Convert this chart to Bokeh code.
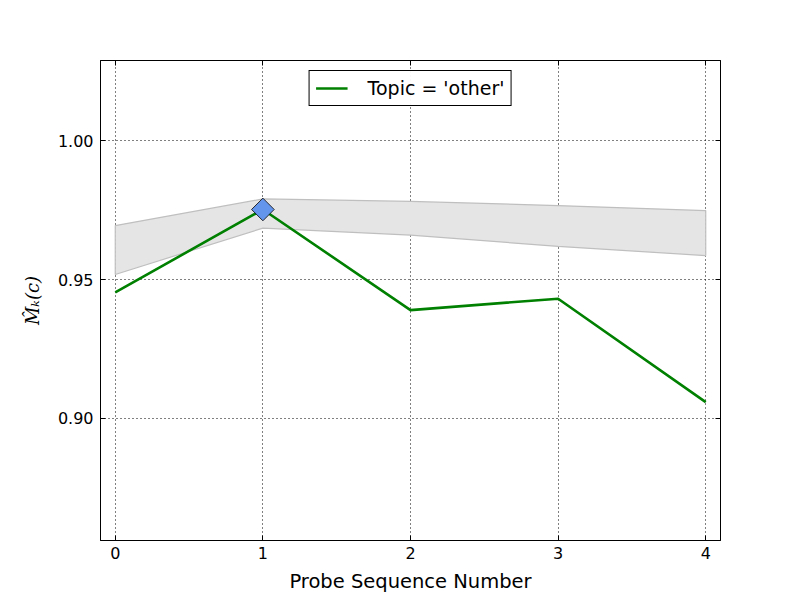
import numpy as np
from bokeh.plotting import figure
from bokeh.models import (LinearAxis, Range1d, FixedTicker, Legend, LegendItem,
                          CustomJSTickFormatter)
from bokeh.embed import file_html
from bokeh.resources import INLINE

# data
probe = [0, 1, 2, 3, 4]
topic_other = [0.9454, 0.9752, 0.9390, 0.9431, 0.9059]
band_upper = [0.9694, 0.9790, 0.9781, 0.9766, 0.9748]
band_lower = [0.9518, 0.9685, 0.9660, 0.9619, 0.9586]
highlight_x = [1]
highlight_y = [0.9752]
x_ticks = [0, 1, 2, 3, 4]
y_ticks = [0.90, 0.95, 1.00]
legend_label = "Topic = 'other'"

FONT = "DejaVu Sans"

p = figure(frame_width=620, frame_height=480,
           min_border_left=100, min_border_right=80,
           min_border_top=60, min_border_bottom=60,
           x_range=Range1d(-0.1, 4.1), y_range=Range1d(0.8561, 1.0288),
           output_backend="svg", toolbar_location=None,
           background_fill_color="white", border_fill_color="white")

p.outline_line_color = "black"
p.outline_line_width = 1

# band
px = list(probe) + list(probe[::-1])
py = list(band_upper) + list(band_lower[::-1])
p.patch(px, py, fill_color="#e5e5e5", fill_alpha=1.0,
        line_color="#bfbfbf", line_width=1.2)

# main line
r_line = p.line(probe, topic_other, line_color="#008000", line_width=2.6)

# highlight
p.scatter(highlight_x, highlight_y, marker="square", angle=np.pi / 4, size=16,
          fill_color="#6495ED", line_color="black", line_width=0.8)

# axes
for ax in (p.xaxis[0], p.yaxis[0]):
    ax.major_tick_in = 5
    ax.major_tick_out = 0
    ax.minor_tick_in = 0
    ax.minor_tick_out = 0
    ax.axis_line_color = "black"
    ax.major_label_text_font = FONT
    ax.major_label_text_font_size = "16px"
    ax.major_label_text_color = "black"
    ax.axis_label_text_font = FONT
    ax.axis_label_text_font_style = "normal"
    ax.axis_label_text_color = "black"

p.xaxis[0].ticker = FixedTicker(ticks=x_ticks)
p.yaxis[0].ticker = FixedTicker(ticks=y_ticks)
p.yaxis[0].formatter = CustomJSTickFormatter(code="return tick.toFixed(2);")
p.xaxis[0].axis_label = "Probe Sequence Number"
p.xaxis[0].axis_label_text_font_size = "19.5px"
p.xaxis[0].major_label_standoff = 6
p.xaxis[0].axis_label_standoff = 8
p.yaxis[0].axis_label = "M\u0302\u2096(c)"
p.yaxis[0].axis_label_text_font = "DejaVu Serif"
p.yaxis[0].axis_label_text_font_style = "italic"
p.yaxis[0].axis_label_text_font_size = "18px"
p.yaxis[0].major_label_standoff = 7
p.yaxis[0].axis_label_standoff = 12

blank = CustomJSTickFormatter(code="return '';")
top = LinearAxis(ticker=FixedTicker(ticks=x_ticks), formatter=blank,
                 major_tick_in=5, major_tick_out=0, minor_tick_in=0, minor_tick_out=0,
                 axis_line_color="black")
right = LinearAxis(ticker=FixedTicker(ticks=y_ticks), formatter=blank,
                   major_tick_in=5, major_tick_out=0, minor_tick_in=0, minor_tick_out=0,
                   axis_line_color="black")
p.add_layout(top, "above")
p.add_layout(right, "right")

# grid
for g in (p.xgrid[0], p.ygrid[0]):
    g.grid_line_color = "black"
    g.grid_line_dash = "1 3"
    g.grid_line_width = 1
    g.grid_line_alpha = 1.0
p.xgrid[0].ticker = FixedTicker(ticks=x_ticks)
p.ygrid[0].ticker = FixedTicker(ticks=y_ticks)

legend = Legend(items=[LegendItem(label=legend_label, renderers=[r_line])],
                location="top_center")
legend.border_line_color = "black"
legend.border_line_width = 1
legend.border_line_alpha = 1.0
legend.label_text_font = FONT
legend.label_text_font_size = "19px"
legend.label_text_color = "black"
legend.glyph_width = 32
legend.glyph_height = 16
legend.label_standoff = 20
legend.padding = 6
legend.margin = 10
legend.spacing = 0
legend.label_height = 16
p.add_layout(legend, "center")

open("out.html", "w").write(file_html(p, INLINE))
